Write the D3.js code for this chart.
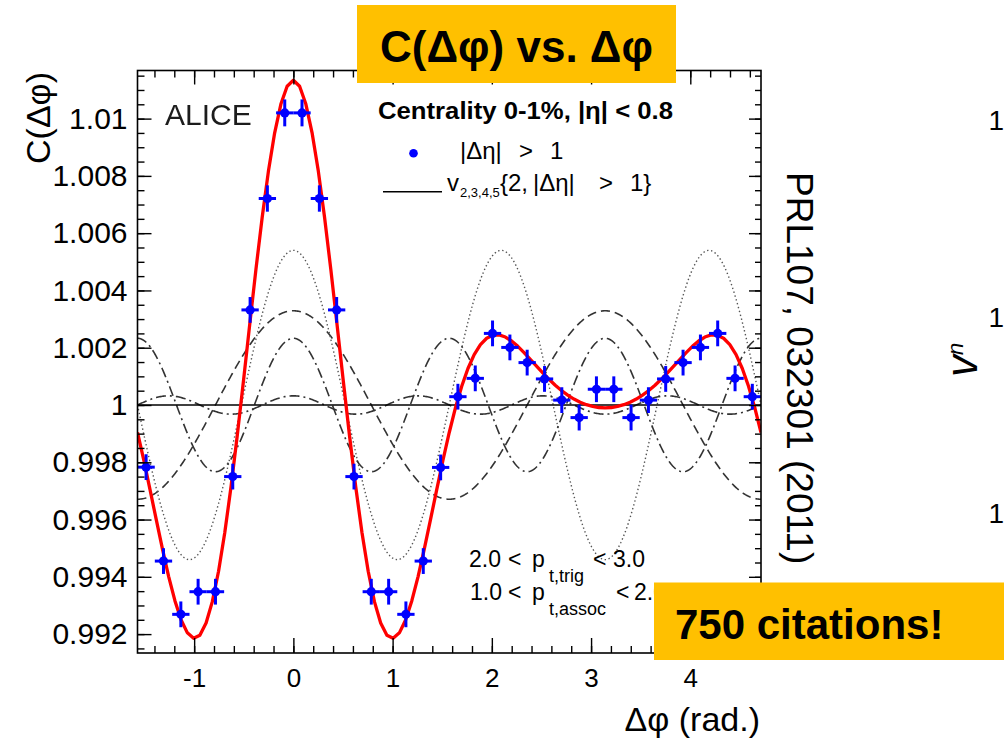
<!DOCTYPE html>
<html>
<head>
<meta charset="utf-8">
<script src="https://cdn.jsdelivr.net/npm/d3@7"></script>
<style>
  html, body { margin: 0; padding: 0; background: #fff; }
  svg { display: block; font-family: "Liberation Sans", Arial, Helvetica, sans-serif; }
</style>
</head>
<body>
<svg id="chart" width="1004" height="740"></svg>
<script>
// Two-particle correlation, centrality 0-1%, |Δη| > 1 — bin centres (rad.)
const dphi = [-1.484, -1.309, -1.134, -0.960, -0.785, -0.611, -0.436, -0.262, -0.087,
               0.087,  0.262,  0.436,  0.611,  0.785,  0.960,  1.134,  1.309,  1.484,
               1.658,  1.833,  2.007,  2.182,  2.356,  2.531,  2.705,  2.880,  3.054,
               3.229,  3.403,  3.578,  3.752,  3.927,  4.102,  4.276,  4.451,  4.625];

// C(Δφ) per bin
const corr = [0.99783, 0.99455, 0.99269, 0.99348, 0.99348, 0.99750, 1.00332, 1.00721, 1.01020,
              1.01020, 1.00721, 1.00332, 0.99750, 0.99348, 0.99348, 0.99269, 0.99455, 0.99782,
              1.00029, 1.00093, 1.00250, 1.00201, 1.00148, 1.00091, 1.00017, 0.99956, 1.00055,
              1.00055, 0.99956, 1.00017, 1.00091, 1.00148, 1.00201, 1.00250, 1.00093, 1.00029];

// statistical uncertainty per bin
const corrErr = [0.00045, 0.00045, 0.00045, 0.00045, 0.00045, 0.00045, 0.00045, 0.00046, 0.00047,
                 0.00047, 0.00046, 0.00045, 0.00045, 0.00045, 0.00045, 0.00045, 0.00045, 0.00045,
                 0.00045, 0.00045, 0.00045, 0.00045, 0.00045, 0.00045, 0.00045, 0.00045, 0.00045,
                 0.00045, 0.00045, 0.00045, 0.00045, 0.00045, 0.00045, 0.00045, 0.00045, 0.00045];

const binHalfWidth = 0.0873;   // half of 2π/36

// Fourier harmonics V_nΔ from v_n{2, |Δη| > 1}
const harmonicOrder = [2, 3, 4, 5];
const harmonicV = [0.001645, 0.00270, 0.001165, 0.00016];

// axis ticks
const xTicks = [-1, 0, 1, 2, 3, 4];
const xTickLabels = ["-1", "0", "1", "2", "3", "4"];
const yTicks = [0.992, 0.994, 0.996, 0.998, 1.000, 1.002, 1.004, 1.006, 1.008, 1.010];
const yTickLabels = ["0.992", "0.994", "0.996", "0.998", "1", "1.002", "1.004", "1.006", "1.008", "1.01"];

// ---------------------------------------------------------------------------
const svg = d3.select("#chart");
const frame = { left: 137.5, right: 761, top: 70.5, bottom: 653 };

const x = d3.scaleLinear().domain([-Math.PI / 2, 1.5 * Math.PI]).range([frame.left, frame.right]);
const y = d3.scaleLinear().domain([0.99134, 1.01168]).range([frame.bottom, frame.top]);

const defs = svg.append("defs");
defs.append("clipPath").attr("id", "plotClip")
  .append("rect")
  .attr("x", frame.left).attr("y", frame.top)
  .attr("width", frame.right - frame.left).attr("height", frame.bottom - frame.top);
defs.append("filter").attr("id", "soft")
  .append("feGaussianBlur").attr("stdDeviation", 0.7);

// Fourier model: 1 + 2 Σ V_nΔ cos(nΔφ)
const harmonicTerm = (k, phi) => 2 * harmonicV[k] * Math.cos(harmonicOrder[k] * phi);
const fitValue = phi => 1 + harmonicOrder.reduce((s, _, k) => s + harmonicTerm(k, phi), 0);

const [d0, d1] = x.domain();
const fineGrid = d3.range(0, 601).map(i => d0 + (d1 - d0) * i / 600);
const coarseGrid = d3.range(0, 101).map(i => d0 + (d1 - d0) * i / 100);

const line = d3.line().x(d => x(d[0])).y(d => y(d[1]));

const plot = svg.append("g").attr("clip-path", "url(#plotClip)");

// individual harmonic components
const componentStyle = {
  2: { dash: "9,5", color: "#333", width: 1.6 },
  3: { dash: "1.4,2.6", color: "#555", width: 1.4 },
  4: { dash: "10,4,2,4", color: "#333", width: 1.6 },
  5: { dash: "10,4,2,4", color: "#333", width: 1.6 }
};
plot.selectAll("path.component")
  .data(harmonicOrder.map((n, k) => ({ n, pts: fineGrid.map(p => [p, 1 + harmonicTerm(k, p)]) })))
  .join("path")
  .attr("class", "component")
  .attr("fill", "none")
  .attr("stroke", d => componentStyle[d.n].color)
  .attr("stroke-width", d => componentStyle[d.n].width)
  .attr("stroke-dasharray", d => componentStyle[d.n].dash)
  .attr("d", d => line(d.pts));

// baseline at unity
plot.append("line")
  .attr("x1", frame.left).attr("x2", frame.right)
  .attr("y1", y(1)).attr("y2", y(1))
  .attr("stroke", "#000").attr("stroke-width", 1.5);

// sum of harmonics
plot.append("path")
  .attr("fill", "none")
  .attr("stroke", "#ff0000")
  .attr("stroke-width", 3.3)
  .attr("stroke-linejoin", "round")
  .attr("d", line(coarseGrid.map(p => [p, fitValue(p)])));

// data points with error bars
const pts = svg.append("g");
const rows = dphi.map((p, i) => ({ p, c: corr[i], e: corrErr[i] }));
pts.selectAll("line.ex").data(rows).join("line").attr("class", "ex")
  .attr("x1", d => x(d.p - binHalfWidth)).attr("x2", d => x(d.p + binHalfWidth))
  .attr("y1", d => y(d.c)).attr("y2", d => y(d.c))
  .attr("stroke", "#0000ff").attr("stroke-width", 3);
pts.selectAll("line.ey").data(rows).join("line").attr("class", "ey")
  .attr("x1", d => x(d.p)).attr("x2", d => x(d.p))
  .attr("y1", d => y(d.c - d.e)).attr("y2", d => y(d.c + d.e))
  .attr("stroke", "#0000ff").attr("stroke-width", 3);
pts.selectAll("circle").data(rows).join("circle")
  .attr("cx", d => x(d.p)).attr("cy", d => y(d.c)).attr("r", 4.6)
  .attr("fill", "#0000ff");

// ---------------------------------------------------------------------------
// axes, ROOT style: ticks inside the frame on all four sides
const xMinor = d3.range(-7, 24).map(k => k * 0.2);
const yMinor = d3.range(-17, 24).map(k => 1 + k * 0.0005);

function styleAxis(sel) {
  sel.select(".domain").remove();
  sel.selectAll(".tick line").attr("stroke", "#000").attr("stroke-width", 1.4);
}

svg.append("g").attr("transform", `translate(0,${frame.bottom})`)
  .call(d3.axisBottom(x).tickValues(xMinor).tickSize(-7).tickFormat(""))
  .call(styleAxis);
svg.append("g").attr("transform", `translate(0,${frame.bottom})`)
  .call(d3.axisBottom(x).tickValues(xTicks).tickSize(-15).tickPadding(16)
    .tickFormat((d, i) => xTickLabels[i]))
  .call(styleAxis)
  .call(g => g.selectAll("text").attr("font-size", 26).attr("fill", "#000")
    .attr("font-family", "'Liberation Sans', Arial, sans-serif"));

svg.append("g").attr("transform", `translate(0,${frame.top})`)
  .call(d3.axisTop(x).tickValues(xMinor).tickSize(-7).tickFormat(""))
  .call(styleAxis);
svg.append("g").attr("transform", `translate(0,${frame.top})`)
  .call(d3.axisTop(x).tickValues(xTicks).tickSize(-14).tickFormat(""))
  .call(styleAxis);

svg.append("g").attr("transform", `translate(${frame.left},0)`)
  .call(d3.axisLeft(y).tickValues(yMinor).tickSize(-7).tickFormat(""))
  .call(styleAxis);
svg.append("g").attr("transform", `translate(${frame.left},0)`)
  .call(d3.axisLeft(y).tickValues(yTicks).tickSize(-14).tickPadding(10)
    .tickFormat((d, i) => yTickLabels[i]))
  .call(styleAxis)
  .call(g => g.selectAll("text").attr("font-size", 30).attr("fill", "#000")
    .attr("font-family", "'Liberation Sans', Arial, sans-serif"));

svg.append("g").attr("transform", `translate(${frame.right},0)`)
  .call(d3.axisRight(y).tickValues(yMinor).tickSize(-6).tickFormat(""))
  .call(styleAxis);
svg.append("g").attr("transform", `translate(${frame.right},0)`)
  .call(d3.axisRight(y).tickValues(yTicks).tickSize(-12).tickFormat(""))
  .call(styleAxis);

svg.append("rect")
  .attr("x", frame.left).attr("y", frame.top)
  .attr("width", frame.right - frame.left).attr("height", frame.bottom - frame.top)
  .attr("fill", "none").attr("stroke", "#000").attr("stroke-width", 1.6);

// axis titles
svg.append("text")
  .attr("transform", "translate(50,72) rotate(-90)")
  .attr("text-anchor", "end").attr("font-size", 34).attr("fill", "#000")
  .text("C(Δφ)");
svg.append("text")
  .attr("x", 760).attr("y", 731)
  .attr("text-anchor", "end").attr("font-size", 34).attr("fill", "#000")
  .text("Δφ (rad.)");

// experiment label
svg.append("text")
  .attr("x", 165).attr("y", 125)
  .attr("font-size", 30).attr("fill", "#1c1c1c")
  .attr("filter", "url(#soft)")
  .text("ALICE");

// text built from separately placed pieces (ROOT-like wide spacing)
function pieces(baseline, size, parts) {
  const t = svg.append("text").attr("y", baseline).attr("font-size", size).attr("fill", "#000");
  parts.forEach(p => {
    t.append("tspan")
      .attr("x", p.x)
      .attr("y", baseline + (p.shift || 0))
      .attr("font-size", p.size || size)
      .text(p.s);
  });
  return t;
}

// legend
svg.append("text")
  .attr("x", 378).attr("y", 118.5)
  .attr("font-size", 24).attr("font-weight", "bold").attr("fill", "#000")
  .attr("textLength", 295).attr("lengthAdjust", "spacingAndGlyphs")
  .text("Centrality 0-1%, |η| < 0.8");
svg.append("circle").attr("cx", 413.5).attr("cy", 153.3).attr("r", 4.3).attr("fill", "#0000ff");
pieces(159, 24, [
  { x: 460, s: "|Δη|" },
  { x: 519, s: ">" },
  { x: 550, s: "1" }
]);
svg.append("line")
  .attr("x1", 383).attr("x2", 442).attr("y1", 191.7).attr("y2", 191.7)
  .attr("stroke", "#000").attr("stroke-width", 1.5);
pieces(191, 24, [
  { x: 447, s: "v" },
  { x: 460, s: "2,3,4,5", size: 13, shift: 6 },
  { x: 500, s: "{2," },
  { x: 533, s: "|Δη|" },
  { x: 599, s: ">" },
  { x: 630, s: "1}" }
]);

// momentum selection
pieces(567, 23, [
  { x: 469, s: "2.0" },
  { x: 508, s: "<" },
  { x: 532, s: "p" },
  { x: 549, s: "t,trig", size: 18, shift: 15 },
  { x: 593, s: "<" },
  { x: 613, s: "3.0" }
]);
pieces(600, 23, [
  { x: 470, s: "1.0" },
  { x: 508, s: "<" },
  { x: 532, s: "p" },
  { x: 549, s: "t,assoc", size: 18, shift: 15 },
  { x: 616, s: "<" },
  { x: 634, s: "2.0" }
]);

// reference, rotated
svg.append("text")
  .attr("transform", "translate(787,172) rotate(90)")
  .attr("font-size", 37).attr("fill", "#000")
  .text("PRL107, 032301 (2011)");

// neighbouring panel edge
["1", "1", "1"].forEach((t, i) => {
  svg.append("text").attr("x", 988.5).attr("y", [130, 327, 523][i])
    .attr("font-size", 28).attr("fill", "#000").text(t);
});
const vn = svg.append("text")
  .attr("transform", "translate(977,377) rotate(-90)")
  .attr("fill", "#000");
vn.append("tspan").attr("font-size", 44).attr("font-style", "italic").text("v");
vn.append("tspan").attr("font-size", 22).attr("font-style", "italic").attr("dy", -14).text("n");

// highlight boxes
svg.append("rect").attr("x", 357).attr("y", 5).attr("width", 319).attr("height", 78).attr("fill", "#ffc000");
svg.append("text")
  .attr("x", 516.5).attr("y", 62)
  .attr("text-anchor", "middle").attr("font-size", 44).attr("font-weight", "bold").attr("fill", "#000")
  .text("C(Δφ) vs. Δφ");
svg.append("rect").attr("x", 654).attr("y", 582.5).attr("width", 350).attr("height", 77.5).attr("fill", "#ffc000");
svg.append("text")
  .attr("x", 675).attr("y", 638.5)
  .attr("font-size", 42).attr("font-weight", "bold").attr("fill", "#000")
  .text("750 citations!");
</script>
</body>
</html>
